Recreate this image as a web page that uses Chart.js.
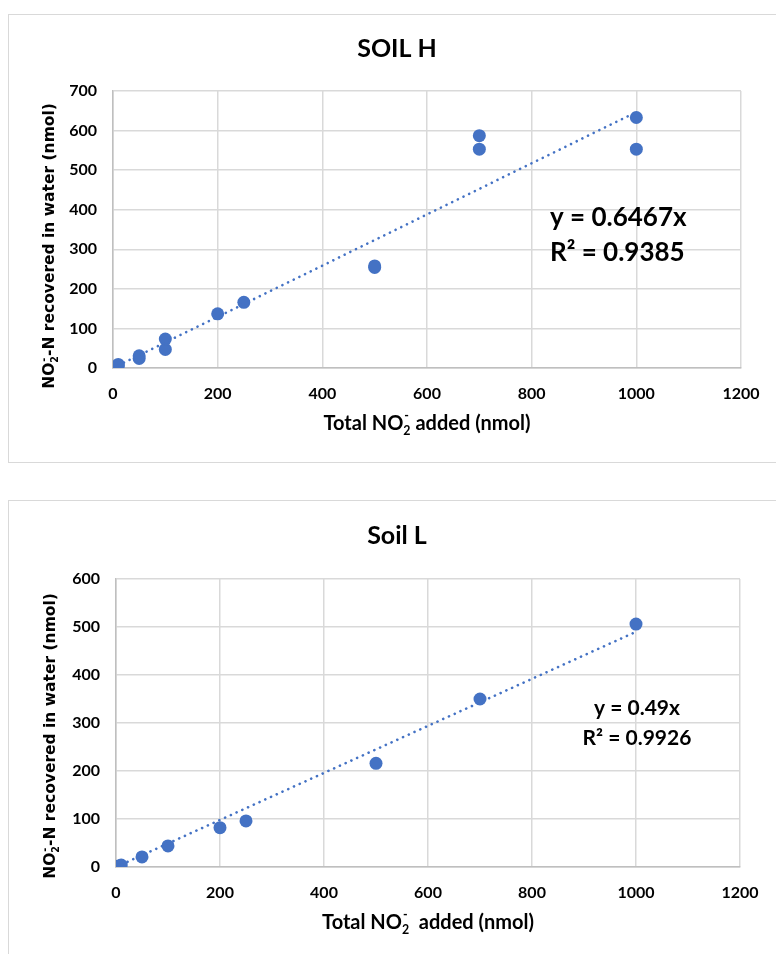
<!DOCTYPE html>
<html>
<head>
<meta charset="utf-8">
<script src="https://cdn.jsdelivr.net/npm/chart.js@4.4.1/dist/chart.umd.min.js"></script>
<style>
  html, body { margin: 0; padding: 0; background: #fff; overflow: hidden; }
  .box { position: absolute; left: 8px; width: 800px; border: 1px solid #d9d9d9; }
  canvas { position: absolute; left: 0; }
</style>
</head>
<body>
<div class="box" style="top:14px; height:447px;"></div>
<div class="box" style="top:500px; height:500px;"></div>
<canvas id="soilH" width="776" height="476" style="top:0"></canvas>
<canvas id="soilL" width="776" height="474" style="top:480px"></canvas>
<script>
// ---- data: soil H ----
const soilHX = [10, 10, 50, 50, 100, 100, 200, 250, 500, 500, 700, 700, 1000, 1000];
const soilHY = [5, 9, 24, 31, 47, 73, 137, 166, 254, 258, 553, 587, 633, 553];
const soilHSlope = 0.6467;
const soilHR2 = 0.9385;
const soilHTrendX = [10, 1000];

// ---- data: soil L ----
const soilLX = [0, 5, 10, 50, 100, 200, 250, 500, 700, 1000];
const soilLY = [0, 2, 4, 21, 44, 82, 96, 216, 350, 506];
const soilLSlope = 0.49;
const soilLR2 = 0.9926;
const soilLTrendX = [0, 1000];

// axis ticks
const xTicks = [0, 200, 400, 600, 800, 1000, 1200];
const soilHYTicks = [0, 100, 200, 300, 400, 500, 600, 700];
const soilLYTicks = [0, 100, 200, 300, 400, 500, 600];

const BLUE = '#4472c4';
const FONT = 'Lato, "Open Sans", sans-serif';
const YFONT = '"DejaVu Sans", Verdana, sans-serif';

// text with sub/superscript pieces, e.g. ['NO', {sub: '2', sup: '-'}, '-N']
function richWidth(ctx, parts, size, family) {
  let w = 0;
  parts.forEach(p => {
    if (typeof p === 'string') {
      ctx.font = `bold ${size}px ${family}`;
      w += ctx.measureText(p).width;
    } else {
      ctx.font = `bold ${size * 0.62}px ${family}`;
      w += Math.max(ctx.measureText(p.sub || '').width, ctx.measureText(p.sup || '').width);
    }
  });
  return w;
}

function drawRich(ctx, parts, size, family) {
  // draws centred on (0,0)
  let x = -richWidth(ctx, parts, size, family) / 2;
  ctx.textAlign = 'left';
  ctx.textBaseline = 'middle';
  parts.forEach(p => {
    if (typeof p === 'string') {
      ctx.font = `bold ${size}px ${family}`;
      ctx.fillText(p, x, 0);
      x += ctx.measureText(p).width;
    } else {
      ctx.font = `bold ${size * 0.62}px ${family}`;
      let w = 0;
      if (p.sub) { ctx.fillText(p.sub, x, size * 0.34); w = ctx.measureText(p.sub).width; }
      if (p.sup) { ctx.fillText(p.sup, x + 1, -size * 0.38); w = Math.max(w, ctx.measureText(p.sup).width); }
      x += w;
    }
  });
}

// titles, axis titles and the trendline equation
const chartText = {
  id: 'chartText',
  afterDraw(chart, args, o) {
    const ctx = chart.ctx;
    ctx.save();
    ctx.fillStyle = '#000';

    ctx.font = `bold ${o.titleSize}px ${FONT}`;
    ctx.textAlign = 'center';
    ctx.textBaseline = 'middle';
    ctx.fillText(o.title, o.titleX, o.titleY);

    ctx.save();
    ctx.translate(o.xTitleX, o.xTitleY);
    drawRich(ctx, o.xTitle, 20, FONT);
    ctx.restore();

    ctx.save();
    ctx.translate(o.yTitleX, o.yTitleY);
    ctx.rotate(-Math.PI / 2);
    drawRich(ctx, o.yTitle, 15.5, YFONT);
    ctx.restore();

    ctx.font = `bold ${o.eqSize}px ${FONT}`;
    ctx.textAlign = o.eqAlign;
    ctx.textBaseline = 'middle';
    o.eqLines.forEach((line, i) => {
      ctx.fillText(line, o.eqX, o.eqY + i * o.eqGap);
    });
    ctx.restore();
  }
};

function makeChart(id, cfg) {
  const points = cfg.xs.map((x, i) => ({ x: x, y: cfg.ys[i] }));
  const trend = cfg.trendX.map(x => ({ x: x, y: x * cfg.slope }));
  const tickFont = { family: FONT, size: 16, weight: 'bold' };
  return new Chart(document.getElementById(id), {
    type: 'scatter',
    data: {
      datasets: [
        {
          data: trend,
          showLine: true,
          borderColor: BLUE,
          borderWidth: 2.6,
          borderDash: [0.1, 6.2],
          borderCapStyle: 'round',
          pointRadius: 0,
          order: 0
        },
        {
          data: points,
          backgroundColor: BLUE,
          borderWidth: 0,
          pointRadius: 6.5,
          order: 1
        }
      ]
    },
    options: {
      responsive: false,
      animation: false,
      layout: { padding: { left: 0, right: cfg.padRight, top: cfg.padTop, bottom: 0 } },
      plugins: {
        legend: { display: false },
        tooltip: { enabled: false },
        chartText: cfg.text
      },
      scales: {
        x: {
          type: 'linear',
          min: 0, max: 1200,
          afterBuildTicks: s => { s.ticks = xTicks.map(v => ({ value: v })); },
          afterFit: s => { s.height = cfg.xHeight; },
          grid: { color: '#d9d9d9', lineWidth: 1.5, drawTicks: false },
          border: { color: '#bfbfbf', width: 1.5 },
          ticks: { padding: 16, color: '#000', font: tickFont, callback: v => String(v) }
        },
        y: {
          min: 0, max: cfg.yTicks[cfg.yTicks.length - 1],
          afterBuildTicks: s => { s.ticks = cfg.yTicks.map(v => ({ value: v })); },
          afterFit: s => { s.width = cfg.yWidth; },
          grid: { color: '#d9d9d9', lineWidth: 1.5, drawTicks: false },
          border: { color: '#bfbfbf', width: 1.5 },
          ticks: { padding: 16, color: '#000', font: tickFont, callback: v => String(v) }
        }
      }
    },
    plugins: [chartText]
  });
}

const yTitleParts = ['NO', { sub: '2', sup: '-' }, '-N recovered in water (nmol)'];

makeChart('soilH', {
  xs: soilHX, ys: soilHY, slope: soilHSlope, trendX: soilHTrendX,
  yTicks: soilHYTicks,
  padTop: 91, padRight: 35, yWidth: 113, xHeight: 108,
  text: {
    title: 'SOIL H', titleSize: 25, titleX: 397, titleY: 49,
    xTitle: ['Total NO', { sub: '2', sup: '-' }, ' added (nmol)'], xTitleX: 427, xTitleY: 424,
    yTitle: yTitleParts, yTitleX: 50, yTitleY: 246,
    eqLines: ['y = ' + soilHSlope + 'x', 'R² = ' + soilHR2],
    eqSize: 26, eqAlign: 'left', eqX: 550, eqY: 218, eqGap: 35
  }
});

makeChart('soilL', {
  xs: soilLX, ys: soilLY, slope: soilLSlope, trendX: soilLTrendX,
  yTicks: soilLYTicks,
  padTop: 99, padRight: 36, yWidth: 116, xHeight: 87,
  text: {
    title: 'Soil L', titleSize: 25, titleX: 397, titleY: 56,
    xTitle: ['Total NO', { sub: '2', sup: '-' }, '  added (nmol)'], xTitleX: 428, xTitleY: 443,
    yTitle: yTitleParts, yTitleX: 51, yTitleY: 256,
    eqLines: ['y = ' + soilLSlope + 'x', 'R² = ' + soilLR2],
    eqSize: 21, eqAlign: 'center', eqX: 637, eqY: 228, eqGap: 30
  }
});
</script>
</body>
</html>
